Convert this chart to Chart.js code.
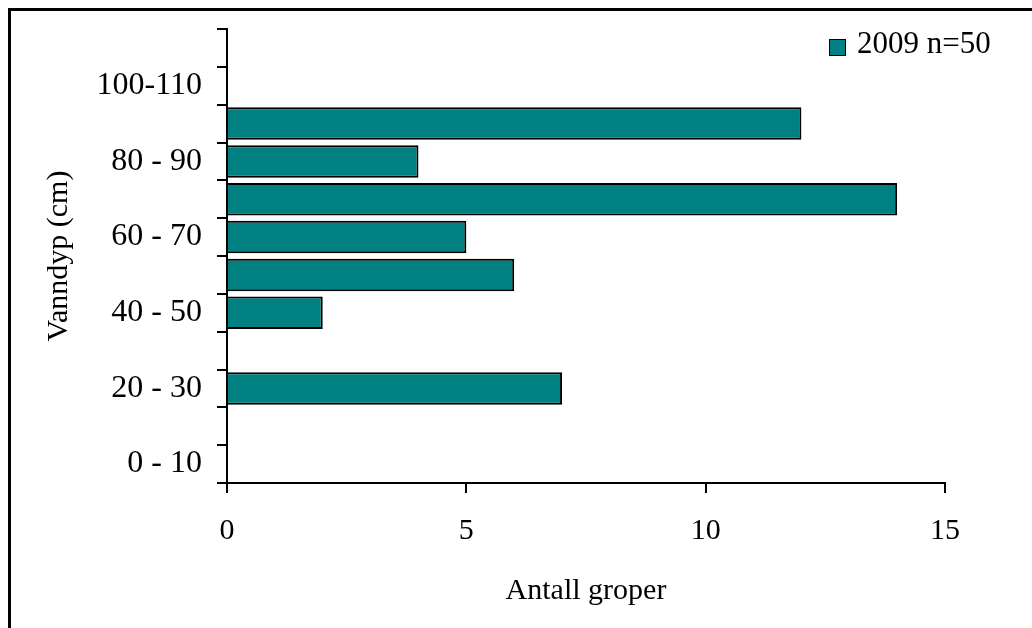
<!DOCTYPE html>
<html>
<head>
<meta charset="utf-8">
<script src="https://cdn.jsdelivr.net/npm/chart.js@4"></script>
<style>
  body { margin: 0; background: #fff; overflow: hidden; }
  #wrap { position: relative; width: 1032px; height: 628px; }
  #frame { position: absolute; left: 8px; top: 8px; width: 1100px; height: 700px;
           border: 3px solid #000; pointer-events: none; }
</style>
</head>
<body>
<div id="wrap">
  <canvas id="vanndyp" width="1032" height="628"></canvas>
  <div id="frame"></div>
</div>
<script>
// depth classes, bottom to top
const depthLabels = ['0 - 10','10 - 20','20 - 30','30 - 40','40 - 50','50 - 60',
                     '60 - 70','70 - 80','80 - 90','90 - 100','100-110','110-120'];
const pitCounts = [0, 0, 7, 0, 2, 6, 5, 14, 4, 12, 0, 0];
const seriesLabel = '2009 n=50';
const xTicks = [0, 5, 10, 15];

const serif = '"Liberation Serif", "Times New Roman", serif';
const teal = '#008080';

// legend drawn inside the plot, top right
const legendPlugin = {
    id: 'boxLegend',
    afterDraw(chart) {
        const ctx = chart.ctx;
        const area = chart.chartArea;
        const ds = chart.data.datasets[0];
        let x = area.right - 116, y = area.top + 10;
        ctx.save();
        ctx.fillStyle = ds.backgroundColor;
        ctx.fillRect(x, y, 17, 17);
        ctx.strokeStyle = '#000';
        ctx.lineWidth = 1;
        ctx.strokeRect(x + 0.5, y + 0.5, 16, 16);
        ctx.fillStyle = '#000';
        ctx.font = '31px ' + serif;
        ctx.textBaseline = 'alphabetic';
        ctx.fillText(ds.label, x + 28, y + 14);
        ctx.restore();
    }
};

let canvas = document.getElementById('vanndyp').getContext('2d');

let chart = new Chart(canvas, {
    type: 'bar',
    data: {
        labels: depthLabels,
        datasets: [{
            label: seriesLabel,
            data: pitCounts,
            backgroundColor: teal,
            borderColor: '#000',
            borderWidth: 2,
            borderSkipped: 'start',
            categoryPercentage: 1,
            barPercentage: 0.86
        }]
    },
    options: {
        indexAxis: 'y',
        responsive: false,
        animation: false,
        layout: { padding: { top: 29, right: 87, left: 0, bottom: 0 } },
        plugins: {
            legend: { display: false },
            tooltip: { enabled: false }
        },
        scales: {
            x: {
                min: 0,
                max: 15,
                afterBuildTicks: (scale) => { scale.ticks = xTicks.map(v => ({ value: v })); },
                afterFit: (scale) => { scale.height = 145; },
                grid: { drawOnChartArea: false, color: '#000', lineWidth: 2, tickLength: 10 },
                border: { display: true, color: '#000', width: 2 },
                ticks: { color: '#000', padding: 20, font: { family: serif, size: 30 } },
                title: {
                    display: true,
                    text: 'Antall groper',
                    color: '#000',
                    padding: { top: 0, bottom: 19 },
                    font: { family: serif, size: 30 }
                }
            },
            y: {
                reverse: true,
                afterFit: (scale) => {
                    scale.width = 227;
                    scale.paddingTop = 0;
                    scale.paddingBottom = 0;
                },
                grid: { drawOnChartArea: false, offset: true, color: '#000', lineWidth: 2, tickLength: 10 },
                border: { display: true, color: '#000', width: 2 },
                ticks: {
                    autoSkip: false,
                    color: '#000',
                    padding: 15,
                    font: { family: serif, size: 32 },
                    callback: (val, i) => (i % 2 == 0 ? depthLabels[i] : '')
                },
                title: {
                    display: true,
                    text: 'Vanndyp (cm)',
                    color: '#000',
                    padding: { top: 41, bottom: 0 },
                    font: { family: serif, size: 30 }
                }
            }
        }
    },
    plugins: [legendPlugin]
});
</script>
</body>
</html>
